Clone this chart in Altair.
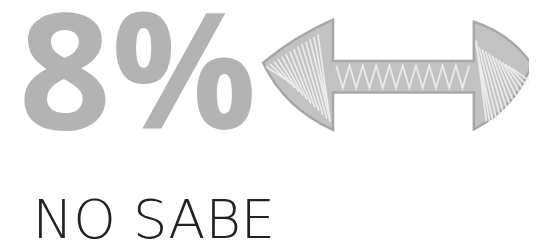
import altair as alt
import pandas as pd

# data
values = ["8%"]
categories = ["NO SABE"]

df = pd.DataFrame({"value": values, "category": categories})

# arrow outline (unit symbol space)
ARROW = (
    "M -1,-0.09 Q -0.76,-0.29 -0.474,-0.415 L -0.474,-0.104 L 0.585,-0.104 "
    "L 0.585,-0.40 Q 0.86,-0.31 1.02,-0.08 Q 0.9,0.25 0.585,0.41 "
    "L 0.585,0.133 L -0.474,0.133 L -0.474,0.415 Q -0.84,0.25 -1,-0.09 Z"
)


def f(v):
    return f"{v:.3f}"


# sketch-like hatching (decoration only)
hatch = []
n = 14
for k in range(0, n):
    t = 0.04 + k / n * 0.8
    x0 = -1 + t * 0.526
    y0 = -0.09 - t * 0.325 + 0.04
    t1 = min(t + 0.3, 0.96)
    x1 = -1 + t1 * 0.526
    y1 = -0.09 + t1 * 0.505 - 0.04
    hatch.append(f"M {f(x0)},{f(y0)} L {f(x1)},{f(y1)}")
for k in range(0, n):
    t = 0.04 + k / n * 0.8
    x0 = 1.02 - t * 0.435
    y0 = -0.08 - t * 0.32 + 0.04
    t1 = min(t + 0.3, 0.96)
    x1 = 1.02 - t1 * 0.435
    y1 = -0.08 + t1 * 0.49 - 0.04
    hatch.append(f"M {f(x1)},{f(y0 + (y1 - y0) * 0.05)} L {f(x0)},{f(y1)}")
zz = ["M -0.45,-0.07"]
x = -0.45
i = 0
while x < 0.54:
    x += 0.05
    zz.append(f"L {f(x)},{'0.10' if i % 2 == 0 else '-0.07'}")
    i += 1
hatch.append(" ".join(zz))
HATCH = " ".join(hatch)

base = alt.Chart(df)

big = base.mark_text(
    font="Open Sans", fontWeight="bold", fontSize=164, color="#b3b3b3",
    align="left", baseline="alphabetic"
).encode(x=alt.value(11), y=alt.value(121), text="value:N")

arrow = base.mark_point(
    shape=ARROW, size=72900, filled=True, fill="#c2c2c2", stroke="#a6a6a6",
    strokeWidth=2.5, opacity=1
).encode(x=alt.value(394), y=alt.value(66))

texture = base.mark_point(
    shape=HATCH, size=72900, filled=False, stroke="#ebebeb",
    strokeWidth=1.8, opacity=1
).encode(x=alt.value(394), y=alt.value(66))

label = base.mark_text(
    font="DejaVu Sans", fontWeight=200, fontSize=55, color="#222222",
    align="left", baseline="alphabetic"
).encode(x=alt.value(25), y=alt.value(232), text="category:N")

chart = alt.layer(big, arrow, texture, label).properties(
    width=529, height=234, padding=0, autosize=alt.AutoSizeParams(type="none")
).configure_view(stroke=None)

chart.save("out.html", embed_options={"renderer": "svg", "actions": False})
